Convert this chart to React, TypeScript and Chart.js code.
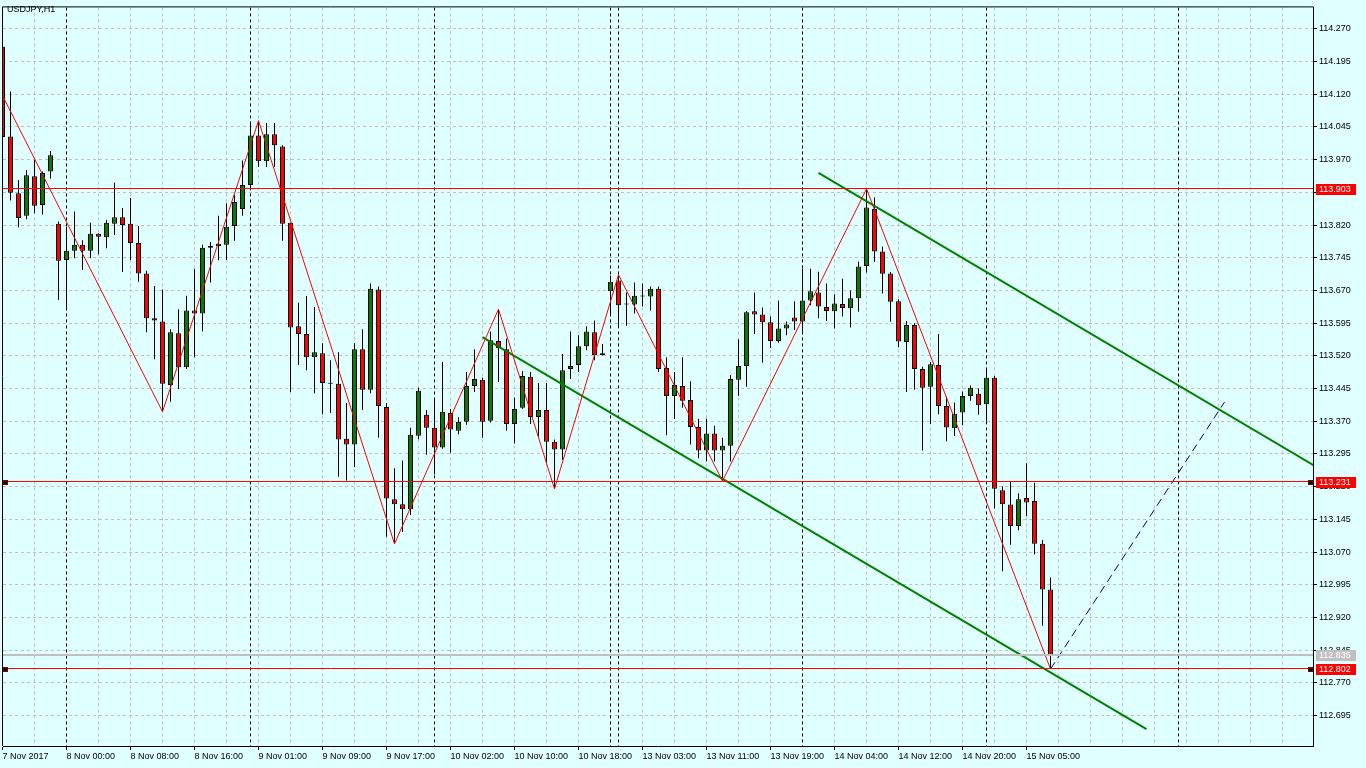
import React, { useEffect, useRef } from "react";
import { Chart, registerables } from "chart.js";

Chart.register(...registerables);

const chartTitle = "USDJPY,H1";

const opens = [
  114.229, 114.023, 113.893, 113.841, 113.932, 113.866, 113.943, 113.823, 113.740, 113.761,
  113.775, 113.761, 113.800, 113.792, 113.823, 113.838, 113.823, 113.779, 113.709, 113.606,
  113.599, 113.453, 113.572, 113.494, 113.624, 113.617, 113.768, 113.772, 113.775, 113.818,
  113.857, 113.912, 114.025, 113.966, 114.028, 114.000, 113.825, 113.588, 113.570, 113.517,
  113.526, 113.458, 113.456, 113.330, 113.317, 113.535, 113.442, 113.672, 113.403, 113.191,
  113.180, 113.168, 113.337, 113.385, 113.355, 113.310, 113.389, 113.348, 113.369, 113.451,
  113.465, 113.371, 113.554, 113.535, 113.364, 113.401, 113.472, 113.380, 113.396, 113.323,
  113.305, 113.490, 113.499, 113.542, 113.574, 113.522, 113.668, 113.693, 113.638, 113.638,
  113.656, 113.656, 113.674, 113.492, 113.428, 113.451, 113.419, 113.357, 113.303, 113.342,
  113.303, 113.314, 113.465, 113.497, 113.622, 113.615, 113.597, 113.554, 113.583, 113.608,
  113.599, 113.647, 113.665, 113.632, 113.622, 113.639, 113.629, 113.652, 113.726, 113.857,
  113.759, 113.709, 113.645, 113.552, 113.591, 113.490, 113.449, 113.499, 113.405, 113.354,
  113.390, 113.428, 113.433, 113.409, 113.470, 113.212, 113.179, 113.130, 113.194, 113.187,
  113.089, 112.984,
];
const highs = [
  114.233, 114.126, 113.923, 113.946, 113.969, 113.943, 113.990, 113.828, 113.816, 113.851,
  113.785, 113.825, 113.801, 113.832, 113.917, 113.859, 113.882, 113.818, 113.715, 113.680,
  113.672, 113.581, 113.627, 113.658, 113.720, 113.775, 113.781, 113.841, 113.870, 113.889,
  113.968, 114.055, 114.059, 114.054, 114.054, 114.003, 113.825, 113.642, 113.657, 113.632,
  113.549, 113.510, 113.528, 113.412, 113.549, 113.581, 113.686, 113.679, 113.412, 113.262,
  113.280, 113.355, 113.447, 113.396, 113.421, 113.506, 113.398, 113.379, 113.483, 113.535,
  113.470, 113.576, 113.627, 113.560, 113.424, 113.485, 113.483, 113.458, 113.458, 113.328,
  113.524, 113.576, 113.567, 113.588, 113.601, 113.547, 113.704, 113.706, 113.665, 113.688,
  113.686, 113.679, 113.679, 113.517, 113.483, 113.517, 113.462, 113.376, 113.376, 113.360,
  113.332, 113.476, 113.558, 113.623, 113.665, 113.631, 113.610, 113.647, 113.599, 113.645,
  113.720, 113.720, 113.713, 113.686, 113.661, 113.697, 113.670, 113.736, 113.903, 113.883,
  113.771, 113.712, 113.650, 113.600, 113.595, 113.495, 113.506, 113.570, 113.427, 113.413,
  113.438, 113.452, 113.446, 113.491, 113.474, 113.221, 113.231, 113.205, 113.274, 113.229,
  113.098, 113.012,
];
const lows = [
  114.019, 113.876, 113.815, 113.833, 113.847, 113.844, 113.926, 113.648, 113.631, 113.744,
  113.717, 113.744, 113.753, 113.767, 113.797, 113.712, 113.739, 113.690, 113.574, 113.512,
  113.392, 113.415, 113.444, 113.490, 113.517, 113.576, 113.688, 113.739, 113.740, 113.784,
  113.841, 113.902, 113.953, 113.953, 113.953, 113.784, 113.437, 113.499, 113.487, 113.434,
  113.386, 113.389, 113.243, 113.234, 113.265, 113.396, 113.434, 113.332, 113.105, 113.089,
  113.116, 113.155, 113.329, 113.293, 113.248, 113.307, 113.298, 113.340, 113.362, 113.437,
  113.332, 113.367, 113.460, 113.348, 113.319, 113.398, 113.364, 113.335, 113.275, 113.215,
  113.282, 113.467, 113.483, 113.533, 113.510, 113.521, 113.614, 113.589, 113.589, 113.617,
  113.633, 113.624, 113.483, 113.338, 113.375, 113.401, 113.317, 113.285, 113.278, 113.278,
  113.233, 113.278, 113.428, 113.449, 113.570, 113.504, 113.538, 113.550, 113.567, 113.579,
  113.576, 113.636, 113.606, 113.600, 113.583, 113.610, 113.585, 113.621, 113.711, 113.736,
  113.663, 113.598, 113.540, 113.437, 113.442, 113.303, 113.364, 113.386, 113.324, 113.336,
  113.361, 113.417, 113.385, 113.370, 113.170, 113.026, 113.087, 113.120, 113.152, 113.065,
  112.901, 112.802,
];
const closes = [
  114.022, 113.894, 113.836, 113.934, 113.864, 113.939, 113.980, 113.738, 113.761, 113.775,
  113.761, 113.800, 113.793, 113.825, 113.838, 113.820, 113.779, 113.709, 113.606, 113.601,
  113.456, 113.574, 113.494, 113.624, 113.617, 113.768, 113.772, 113.777, 113.816, 113.873,
  113.912, 114.025, 113.966, 114.028, 114.003, 113.823, 113.585, 113.570, 113.517, 113.528,
  113.458, 113.456, 113.328, 113.317, 113.535, 113.442, 113.674, 113.405, 113.193, 113.180,
  113.168, 113.339, 113.440, 113.355, 113.310, 113.392, 113.351, 113.369, 113.451, 113.467,
  113.369, 113.556, 113.538, 113.364, 113.398, 113.474, 113.380, 113.396, 113.323, 113.305,
  113.487, 113.497, 113.542, 113.576, 113.522, 113.526, 113.690, 113.636, 113.639, 113.658,
  113.657, 113.674, 113.490, 113.428, 113.453, 113.417, 113.357, 113.303, 113.342, 113.303,
  113.314, 113.467, 113.497, 113.620, 113.615, 113.597, 113.554, 113.583, 113.592, 113.599,
  113.647, 113.668, 113.633, 113.623, 113.640, 113.630, 113.652, 113.725, 113.860, 113.759,
  113.708, 113.644, 113.553, 113.591, 113.490, 113.447, 113.501, 113.405, 113.356, 113.387,
  113.428, 113.447, 113.407, 113.470, 113.215, 113.180, 113.130, 113.191, 113.184, 113.089,
  112.984, 112.835,
];

const xTickIndex = [0, 8, 16, 24, 32, 40, 48, 56, 64, 72, 80, 88, 96, 104, 112, 120, 128];
const xTickLabels = [
  "7 Nov 2017", "8 Nov 00:00", "8 Nov 08:00", "8 Nov 16:00", "9 Nov 01:00", "9 Nov 09:00",
  "9 Nov 17:00", "10 Nov 02:00", "10 Nov 10:00", "10 Nov 18:00", "13 Nov 03:00",
  "13 Nov 11:00", "13 Nov 19:00", "14 Nov 04:00", "14 Nov 12:00", "14 Nov 20:00", "15 Nov 05:00",
];
const yTickValues = [
  112.695, 112.77, 112.845, 112.92, 112.995, 113.07, 113.145, 113.22, 113.295, 113.37,
  113.445, 113.52, 113.595, 113.67, 113.745, 113.82, 113.895, 113.97, 114.045, 114.12,
  114.195, 114.27,
];
const daySeparators = [8, 31, 54, 76, 77, 100, 123, 147];
const gridEveryBars = 4;

const zigzagIndex = [-4, 20, 32, 49, 62, 69, 77, 90, 108, 131];
const zigzagPrice = [114.262, 113.392, 114.059, 113.089, 113.627, 113.215, 113.706, 113.233, 113.903, 112.802];
const lowerChannelIndex = [60, 143];
const lowerChannelPrice = [113.563, 112.664];
const upperChannelIndex = [102, 170];
const upperChannelPrice = [113.9395, 113.203];
const projectionIndex = [131, 152.75];
const projectionPrice = [112.802, 113.414];

const levelLines = [113.903, 113.231, 112.802];
const selectedLevels = [113.231, 112.802];
const bidPrice = 112.835;

const xMin = 0.0625;
const xMax = 163.8125;
const yMin = 112.6254;
const yMax = 114.319;

const FONT = '"Liberation Sans", Arial, sans-serif';

const mtPlugin = {
  id: "mt4",
  beforeDraw(chart: any) {
    const { ctx, width, height } = chart;
    ctx.save();
    ctx.fillStyle = "#E0FFFF";
    ctx.fillRect(0, 0, width, height);
    ctx.restore();
  },
  beforeDatasetsDraw(chart: any) {
    const { ctx, chartArea: a, scales } = chart;
    const x = scales.x;
    const y = scales.y;
    ctx.save();
    ctx.beginPath();
    ctx.rect(a.left, a.top, a.right - a.left, a.bottom - a.top);
    ctx.clip();
    ctx.lineWidth = 1;
    ctx.strokeStyle = "#C0C0C0";
    ctx.setLineDash([3, 3]);
    for (const v of yTickValues) {
      const py = Math.round(y.getPixelForValue(v) - 0.5) + 0.5;
      ctx.beginPath();
      ctx.moveTo(a.left, py);
      ctx.lineTo(a.right, py);
      ctx.stroke();
    }
    for (let i = 0; i <= xMax; i += gridEveryBars) {
      const px = Math.round(x.getPixelForValue(i) - 0.5) + 0.5;
      ctx.beginPath();
      ctx.moveTo(px, a.top);
      ctx.lineTo(px, a.bottom);
      ctx.stroke();
    }
    ctx.strokeStyle = "#000000";
    ctx.setLineDash([3, 3]);
    for (const i of daySeparators) {
      const px = Math.round(x.getPixelForValue(i) - 0.5) + 0.5;
      ctx.beginPath();
      ctx.moveTo(px, a.top);
      ctx.lineTo(px, a.bottom);
      ctx.stroke();
    }
    ctx.restore();
  },
  afterDatasetsDraw(chart: any) {
    const { ctx, chartArea: a, scales } = chart;
    const y = scales.y;
    ctx.save();
    ctx.beginPath();
    ctx.rect(a.left, a.top, a.right - a.left, a.bottom - a.top);
    ctx.clip();
    const by = Math.round(y.getPixelForValue(bidPrice));
    ctx.strokeStyle = "#C0C0C0";
    ctx.lineWidth = 2;
    ctx.beginPath();
    ctx.moveTo(a.left, by);
    ctx.lineTo(a.right, by);
    ctx.stroke();
    ctx.strokeStyle = "#FF0000";
    ctx.lineWidth = 1;
    for (const v of levelLines) {
      const py = Math.round(y.getPixelForValue(v) - 0.5) + 0.5;
      ctx.beginPath();
      ctx.moveTo(a.left, py);
      ctx.lineTo(a.right, py);
      ctx.stroke();
    }
    ctx.restore();
  },
  afterDraw(chart: any) {
    const { ctx, chartArea: a, scales } = chart;
    const y = scales.y;
    ctx.save();
    ctx.strokeStyle = "#000";
    ctx.lineWidth = 1;
    ctx.beginPath();
    ctx.moveTo(a.left - 0.5, a.bottom);
    ctx.lineTo(a.left - 0.5, a.top - 0.5);
    ctx.lineTo(a.right + 0.5, a.top - 0.5);
    ctx.stroke();

    ctx.fillStyle = "#000";
    ctx.font = `9px ${FONT}`;
    ctx.textBaseline = "middle";
    ctx.textAlign = "left";
    ctx.fillText(chartTitle, 7, 10);

    const box = (v: number, bg: string) => {
      const py = Math.round(y.getPixelForValue(v));
      ctx.fillStyle = bg;
      ctx.fillRect(a.right + 3, py - 5, 40, 11);
      ctx.fillStyle = "#FFFFFF";
      ctx.fillText(v.toFixed(3), a.right + 6, py + 0.5);
    };
    box(bidPrice, "#C0C0C0");
    for (const v of levelLines) box(v, "#FF0000");

    for (const v of selectedLevels) {
      const py = Math.round(y.getPixelForValue(v));
      for (const sx of [a.left, a.right - 5]) {
        ctx.fillStyle = "#800000";
        ctx.fillRect(sx, py - 2, 5, 5);
        ctx.fillStyle = "#000";
        ctx.fillRect(sx + 1, py - 1, 3, 3);
      }
    }
    ctx.restore();
  },
};

export default function App() {
  const canvasRef = useRef<HTMLCanvasElement | null>(null);

  useEffect(() => {
    const canvas = canvasRef.current;
    if (!canvas) return;
    const bodyColors = opens.map((o, i) => (closes[i] >= o ? "#008000" : "#FF0000"));
    const chart = new Chart(canvas, {
      type: "bar",
      data: {
        datasets: [
          {
            type: "line",
            label: "zigzag",
            data: zigzagIndex.map((v, k) => ({ x: v, y: zigzagPrice[k] })),
            borderColor: "#FF0000",
            borderWidth: 1,
            pointRadius: 0,
            tension: 0,
            order: 1,
          } as any,
          {
            type: "line",
            label: "lower channel",
            data: lowerChannelIndex.map((v, k) => ({ x: v, y: lowerChannelPrice[k] })),
            borderColor: "#008000",
            borderWidth: 2,
            pointRadius: 0,
            order: 1,
          } as any,
          {
            type: "line",
            label: "upper channel",
            data: upperChannelIndex.map((v, k) => ({ x: v, y: upperChannelPrice[k] })),
            borderColor: "#008000",
            borderWidth: 2,
            pointRadius: 0,
            order: 1,
          } as any,
          {
            type: "line",
            label: "projection",
            data: projectionIndex.map((v, k) => ({ x: v, y: projectionPrice[k] })),
            borderColor: "#00008B",
            borderWidth: 1,
            borderDash: [8, 5],
            pointRadius: 0,
            order: 1,
          } as any,
          {
            type: "bar",
            label: "body",
            data: opens.map((o, i) => ({ x: i, y: [o, closes[i]] })),
            backgroundColor: bodyColors,
            borderColor: "#000000",
            borderWidth: 1,
            borderSkipped: false,
            barThickness: 5,
            minBarLength: 1,
            grouped: false,
            inflateAmount: 0,
            order: 5,
          } as any,
          {
            type: "bar",
            label: "wick",
            data: highs.map((h, i) => ({ x: i, y: [lows[i], h] })),
            backgroundColor: "#000000",
            borderWidth: 0,
            barThickness: 1,
            grouped: false,
            inflateAmount: 0,
            order: 6,
          } as any,
        ],
      },
      options: {
        animation: false,
        responsive: false,
        devicePixelRatio: 1,
        events: [],
        layout: { padding: { left: 3, top: 3, right: 0, bottom: 0 } },
        plugins: { legend: { display: false }, tooltip: { enabled: false } },
        scales: {
          x: {
            type: "linear",
            position: "bottom",
            min: xMin,
            max: xMax,
            offset: false,
            afterBuildTicks: (s: any) => {
              s.ticks = xTickIndex.map((v) => ({ value: v }));
            },
            afterFit: (s: any) => {
              s.height = 22;
            },
            ticks: {
              autoSkip: false,
              maxRotation: 0,
              minRotation: 0,
              align: "start",
              padding: 1,
              color: "#000",
              font: { family: FONT, size: 9 },
              callback: (_v: any, k: number) => xTickLabels[k],
            },
            grid: { offset: false, drawOnChartArea: false, drawTicks: true, tickLength: 4, tickColor: "#000", tickWidth: 1 },
            border: { display: true, color: "#000", width: 1 },
          },
          y: {
            type: "linear",
            position: "right",
            min: yMin,
            max: yMax,
            beginAtZero: false,
            afterBuildTicks: (s: any) => {
              s.ticks = yTickValues.map((v) => ({ value: v }));
            },
            afterFit: (s: any) => {
              s.width = 53;
            },
            ticks: {
              padding: 2,
              color: "#000",
              font: { family: FONT, size: 9 },
              callback: (v: any) => Number(v).toFixed(3),
            },
            grid: { drawOnChartArea: false, drawTicks: true, tickLength: 4, tickColor: "#000", tickWidth: 1 },
            border: { display: true, color: "#000", width: 1 },
          },
        },
      } as any,
      plugins: [mtPlugin],
    });
    return () => chart.destroy();
  }, []);

  return (
    <div style={{ position: "absolute", left: 0, top: 0, width: 1366, height: 768, background: "#E0FFFF" }}>
      <canvas ref={canvasRef} width={1366} height={768} style={{ display: "block" }} />
    </div>
  );
}
